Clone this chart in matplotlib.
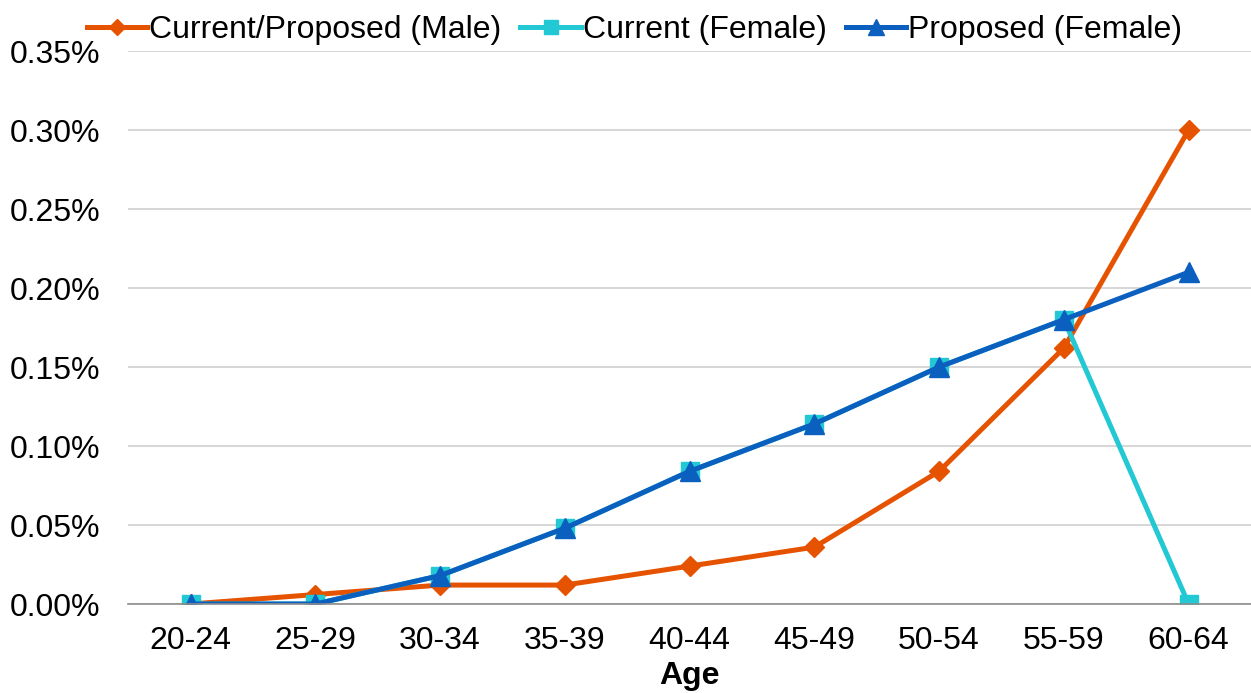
import matplotlib.pyplot as plt
from matplotlib.ticker import FuncFormatter

plt.rcParams['font.family'] = ['Liberation Sans', 'DejaVu Sans']

# age bands and rates (in percent)
ages = ['20-24', '25-29', '30-34', '35-39', '40-44', '45-49', '50-54', '55-59', '60-64']
male = [0.000, 0.006, 0.012, 0.012, 0.024, 0.036, 0.084, 0.162, 0.300]
female_current = [0.000, 0.000, 0.018, 0.048, 0.084, 0.114, 0.150, 0.180, 0.000]
female_proposed = [0.000, 0.000, 0.018, 0.048, 0.084, 0.114, 0.150, 0.180, 0.210]

FS = 23

fig = plt.figure(figsize=(12.51, 6.93), dpi=100)
ax = fig.add_axes([0.1025, 0.1284, 0.8975, 0.798])

x = range(len(ages))
ax.plot(x, male, color='#E55300', lw=3.6, marker='D', ms=10, label='Current/Proposed (Male)')
ax.plot(x, female_current, color='#22C8D3', lw=3.6, marker='s', ms=12.5, label='Current (Female)')
ax.plot(x, female_proposed, color='#0A5FBF', lw=3.6, marker='^', ms=14, label='Proposed (Female)')

ax.set_xlim(-0.5, len(ages) - 0.5)
ax.set_ylim(0, 0.35)
ax.set_yticks([0.05 * i for i in range(8)])
ax.yaxis.set_major_formatter(FuncFormatter(lambda v, p: f'{v:.2f}%'))
ax.set_xticks(list(x))
ax.set_xticklabels(ages)
ax.tick_params(axis='both', length=0, labelsize=FS)
ax.tick_params(axis='x', pad=16)
ax.tick_params(axis='y', pad=20)

ax.grid(axis='y', color='#D0D0D0', lw=1.2)
ax.set_axisbelow(True)
for s in ['top', 'right', 'left']:
    ax.spines[s].set_visible(False)
ax.spines['bottom'].set_color('#8C8C8C')
ax.spines['bottom'].set_linewidth(1.2)

ax.set_xlabel('Age', fontsize=FS, fontweight='bold', labelpad=3.5)

fig.legend(loc='upper center', bbox_to_anchor=(0.507, 1.02), ncol=3, frameon=False,
           fontsize=FS, handlelength=1.9, handletextpad=0.05, columnspacing=0.6,
           markerscale=0.85)

fig.savefig('out.png', dpi=100)
